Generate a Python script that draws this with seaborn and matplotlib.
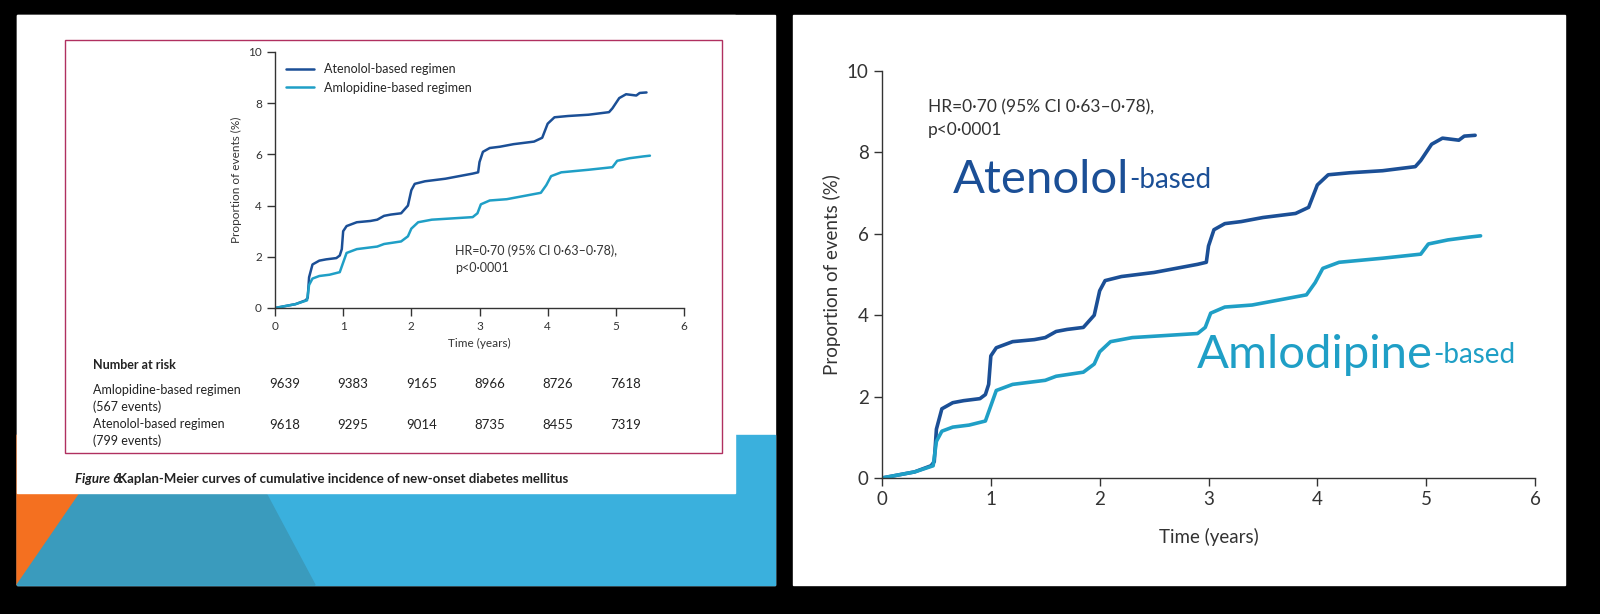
import matplotlib
matplotlib.use("Agg")
import matplotlib.pyplot as plt
import seaborn as sns
import pandas as pd
from matplotlib.patches import Rectangle, Polygon

sns.set_style("white")
plt.rcParams['font.family'] = ['Lato', 'DejaVu Sans']

# curve points (years, % events)
aten_t = [0, 0.1, 0.3, 0.45, 0.48, 0.5, 0.55, 0.65, 0.75, 0.9, 0.95, 0.98, 1.0, 1.05, 1.2, 1.4, 1.5, 1.6, 1.7,
          1.85, 1.95, 2.0, 2.05, 2.2, 2.5, 2.7, 2.9, 2.98, 3.0, 3.05, 3.15, 3.3, 3.5, 3.8, 3.92, 4.0, 4.1, 4.3,
          4.6, 4.75, 4.9, 4.95, 5.05, 5.15, 5.3, 5.35, 5.45]
aten_y = [0, 0.05, 0.15, 0.3, 0.4, 1.2, 1.7, 1.85, 1.9, 1.95, 2.05, 2.3, 3.0, 3.2, 3.35, 3.4, 3.45, 3.6, 3.65,
          3.7, 4.0, 4.6, 4.85, 4.95, 5.05, 5.15, 5.25, 5.3, 5.7, 6.1, 6.25, 6.3, 6.4, 6.5, 6.65, 7.2, 7.45, 7.5,
          7.55, 7.6, 7.65, 7.8, 8.2, 8.35, 8.3, 8.4, 8.42]
amlo_t = [0, 0.3, 0.47, 0.5, 0.55, 0.65, 0.8, 0.95, 0.99, 1.05, 1.2, 1.5, 1.6, 1.85, 1.95, 2.0, 2.1, 2.3, 2.6,
          2.9, 2.97, 3.02, 3.15, 3.4, 3.7, 3.9, 3.98, 4.05, 4.2, 4.6, 4.95, 5.02, 5.2, 5.4, 5.5]
amlo_y = [0, 0.15, 0.3, 0.9, 1.15, 1.25, 1.3, 1.4, 1.7, 2.15, 2.3, 2.4, 2.5, 2.6, 2.8, 3.1, 3.35, 3.45, 3.5,
          3.55, 3.7, 4.05, 4.2, 4.25, 4.4, 4.5, 4.8, 5.15, 5.3, 5.4, 5.5, 5.75, 5.85, 5.92, 5.95]

risk_amlo = [9639, 9383, 9165, 8966, 8726, 7618]
risk_aten = [9618, 9295, 9014, 8735, 8455, 7319]

DARK = "#1b4f96"
LIGHT = "#1f9fc6"
NARROW = ['Liberation Sans Narrow', 'Lato', 'DejaVu Sans']

df = pd.concat([
    pd.DataFrame({"t": aten_t, "y": aten_y, "arm": "Atenolol-based regimen"}),
    pd.DataFrame({"t": amlo_t, "y": amlo_y, "arm": "Amlopidine-based regimen"}),
])
pal = {"Atenolol-based regimen": DARK, "Amlopidine-based regimen": LIGHT}

W, H = 1600, 614
fig = plt.figure(figsize=(16, 6.14), dpi=100, facecolor="black")

# background in pixel coordinates
bg = fig.add_axes([0, 0, 1, 1])
bg.set_xlim(0, W)
bg.set_ylim(H, 0)
bg.axis("off")
bg.add_patch(Rectangle((17, 15), 758, 570, color="white"))
bg.add_patch(Rectangle((17, 435), 758, 150, color="#3ab0dd"))
bg.add_patch(Polygon([(17, 435), (120, 435), (17, 585)], color="#f47020"))
bg.add_patch(Polygon([(120, 435), (235, 435), (315, 585), (17, 585)], color="#3a9bbd"))
bg.add_patch(Rectangle((17, 15), 718, 478, color="white"))
bg.add_patch(Rectangle((65, 40), 657, 413, fill=False, ec="#b03060", lw=1))
bg.add_patch(Rectangle((793, 15), 772, 570, color="white"))


def px_axes(x0, x6, y0, y10):
    return fig.add_axes([x0 / W, 1 - y0 / H, (x6 - x0) / W, (y0 - y10) / H])


def km(ax, lw, fs, legend):
    sns.lineplot(data=df, x="t", y="y", hue="arm", palette=pal, ax=ax, lw=lw,
                 legend=legend, estimator=None, sort=False)
    ax.set_xlim(0, 6)
    ax.set_ylim(0, 10)
    ax.set_xticks(range(7))
    ax.set_yticks(range(0, 11, 2))
    ax.set_facecolor("none")
    for s in ["top", "right"]:
        ax.spines[s].set_visible(False)
    for s in ["left", "bottom"]:
        ax.spines[s].set_color("#333333")
        ax.spines[s].set_linewidth(1)
    ax.tick_params(direction="out", length=6, width=1, colors="#333333", labelsize=fs,
                   left=True, bottom=True)
    ax.set_xlabel("Time (years)", fontsize=fs, color="#333333")
    ax.set_ylabel("Proportion of events (%)", fontsize=fs, color="#333333")


# left: journal figure
axL = px_axes(275, 684, 308, 52)
km(axL, 1.8, 8.5, True)
axL.legend(loc="upper left", bbox_to_anchor=(0.0, 1.0), frameon=False, fontsize=8.5, handlelength=2.2,
           prop={"family": NARROW, "size": 9})
axL.text(0.44, 0.14, "HR=0·70 (95% CI 0·63–0·78),\np<0·0001", transform=axL.transAxes,
         fontsize=9, color="#333333", linespacing=1.5, family=NARROW)

bg.text(93, 365, "Number at risk", fontsize=9, fontweight="bold", va="center", color="#222222", family=NARROW)
bg.text(93, 384, "Amlopidine-based regimen\n(567 events)", fontsize=9, va="top", color="#222222",
        linespacing=1.4, family=NARROW)
bg.text(93, 418, "Atenolol-based regimen\n(799 events)", fontsize=9, va="top", color="#222222",
        linespacing=1.4, family=NARROW)
for i in range(6):
    xp = 275 + i * (684 - 275) / 6
    bg.text(xp + 10, 384, str(risk_amlo[i]), fontsize=9.5, ha="center", va="center", color="#222222", family=NARROW)
    bg.text(xp + 10, 425, str(risk_aten[i]), fontsize=9.5, ha="center", va="center", color="#222222", family=NARROW)
bg.text(75, 479, "Figure 6: ", fontsize=9.5, fontweight="bold", fontstyle="italic", va="center",
        color="#222222", family=NARROW)
bg.text(118, 479, "Kaplan-Meier curves of cumulative incidence of new-onset diabetes mellitus",
        fontsize=9.5, fontweight="bold", va="center", color="#222222", family=NARROW)

# right: enlarged chart
axR = px_axes(882, 1535, 478, 71)
km(axR, 2.6, 13.5, False)
axR.xaxis.labelpad = 14
axR.text(0.07, 0.93, "HR=0·70 (95% CI 0·63–0·78),\np<0·0001", transform=axR.transAxes,
         fontsize=12.5, color="#333333", va="top", linespacing=1.5)

t1 = bg.text(953, 180, "Atenolol", fontsize=34, color=DARK, va="center")
bg.annotate("-based", xycoords=t1, xy=(1, 0.18), fontsize=20, color=DARK, va="bottom")
t2 = bg.text(1197, 355, "Amlodipine", fontsize=34, color=LIGHT, va="center")
bg.annotate("-based", xycoords=t2, xy=(1, 0.18), fontsize=20, color=LIGHT, va="bottom")

fig.savefig("out.png", dpi=100, facecolor="black")
